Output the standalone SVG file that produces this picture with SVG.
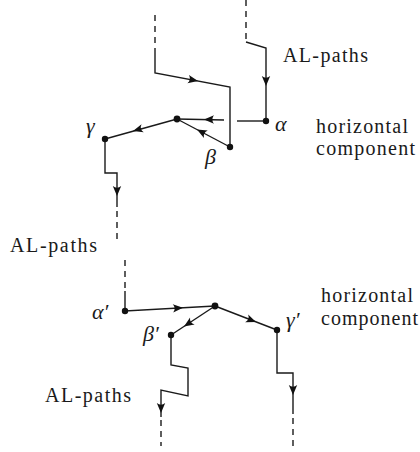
<svg xmlns="http://www.w3.org/2000/svg" width="420" height="452" viewBox="0 0 420 452">
<style>
.ln{fill:none;stroke:#1a1a1a;stroke-width:1.4}
.ds{fill:none;stroke:#1a1a1a;stroke-width:1.4;stroke-dasharray:6,5}
.dot{fill:#111}
.ah{fill:#111}
text{fill:#1a1a1a}
.t{font-size:20px}
.g{font-size:22px;font-style:italic}
</style>
<defs>
<path id="ah" d="M0,0 L-10,-4.2 Q-6.5,0 -10,4.2 Z"/>
</defs>
<g id="connectors">
<path class="ds" d="M246,0 V42"/>
<path class="ln" d="M246,42 L266,48 V121"/>
<use href="#ah" class="ah" transform="translate(266,86) rotate(90)"/>
<path class="ds" d="M155,15 V52"/>
<path class="ln" d="M155,52 V73 L230,87 V147"/>
<use href="#ah" class="ah" transform="translate(198,81) rotate(10.6)"/>
<path class="ln" d="M266,121 H237"/>
<path class="ln" d="M224,120 L177,119"/>
<use href="#ah" class="ah" transform="translate(204,119.5) rotate(180)"/>
<path class="ln" d="M230,147 L177,119"/>
<use href="#ah" class="ah" transform="translate(197,129.5) rotate(207.8)"/>
<path class="ln" d="M177,119 L105,139"/>
<use href="#ah" class="ah" transform="translate(133,131) rotate(164.5)"/>
<path class="ln" d="M105,139 V173 H117 V207"/>
<use href="#ah" class="ah" transform="translate(117,196) rotate(90)"/>
<path class="ds" d="M117,211 V242"/>
<path class="ds" d="M125,260 V291"/>
<path class="ln" d="M125,291 V311 L215,306"/>
<use href="#ah" class="ah" transform="translate(183,307.8) rotate(-3.2)"/>
<path class="ln" d="M215,306 L171,335"/>
<use href="#ah" class="ah" transform="translate(184,326.5) rotate(146.6)"/>
<path class="ln" d="M215,306 L277,330"/>
<use href="#ah" class="ah" transform="translate(256,322) rotate(21.2)"/>
<path class="ln" d="M171,335 V365 L188,368 V396 L161,390 V417"/>
<use href="#ah" class="ah" transform="translate(161,413) rotate(90)"/>
<path class="ds" d="M161,420 V446"/>
<path class="ln" d="M277,330 V373 H293 V414"/>
<use href="#ah" class="ah" transform="translate(293,395) rotate(90)"/>
<path class="ds" d="M293,418 V446"/>
</g>
<g font-family="Liberation Serif, Times New Roman, Tinos, DejaVu Serif, serif">
<g id="alpha"><circle class="dot" cx="266" cy="121" r="3.2"/><text class="g" x="275" y="131">α</text></g>
<g id="beta"><circle class="dot" cx="230" cy="147" r="3.2"/><text class="g" x="205" y="164">β</text></g>
<g id="junction-top"><circle class="dot" cx="177" cy="119" r="3.4"/></g>
<g id="gamma"><circle class="dot" cx="105" cy="139" r="3.2"/><text class="g" x="86" y="133">γ</text></g>
<g id="alpha-prime"><circle class="dot" cx="125" cy="311" r="3.2"/><text class="g" x="92" y="319">α′</text></g>
<g id="junction-bottom"><circle class="dot" cx="215" cy="306" r="3.4"/></g>
<g id="beta-prime"><circle class="dot" cx="171" cy="335" r="3.2"/><text class="g" x="143" y="341">β′</text></g>
<g id="gamma-prime"><circle class="dot" cx="277" cy="330" r="3.2"/><text class="g" x="286" y="327">γ′</text></g>
<g id="labels">
<text class="t" x="283" y="62" textLength="85">AL-paths</text>
<text class="t" x="316" y="133" textLength="92">horizontal</text>
<text class="t" x="316" y="155" textLength="99">component</text>
<text class="t" x="10" y="252" textLength="87">AL-paths</text>
<text class="t" x="321" y="302" textLength="92">horizontal</text>
<text class="t" x="321" y="325" textLength="97">component</text>
<text class="t" x="45" y="402" textLength="86">AL-paths</text>
</g>
</g>
</svg>
